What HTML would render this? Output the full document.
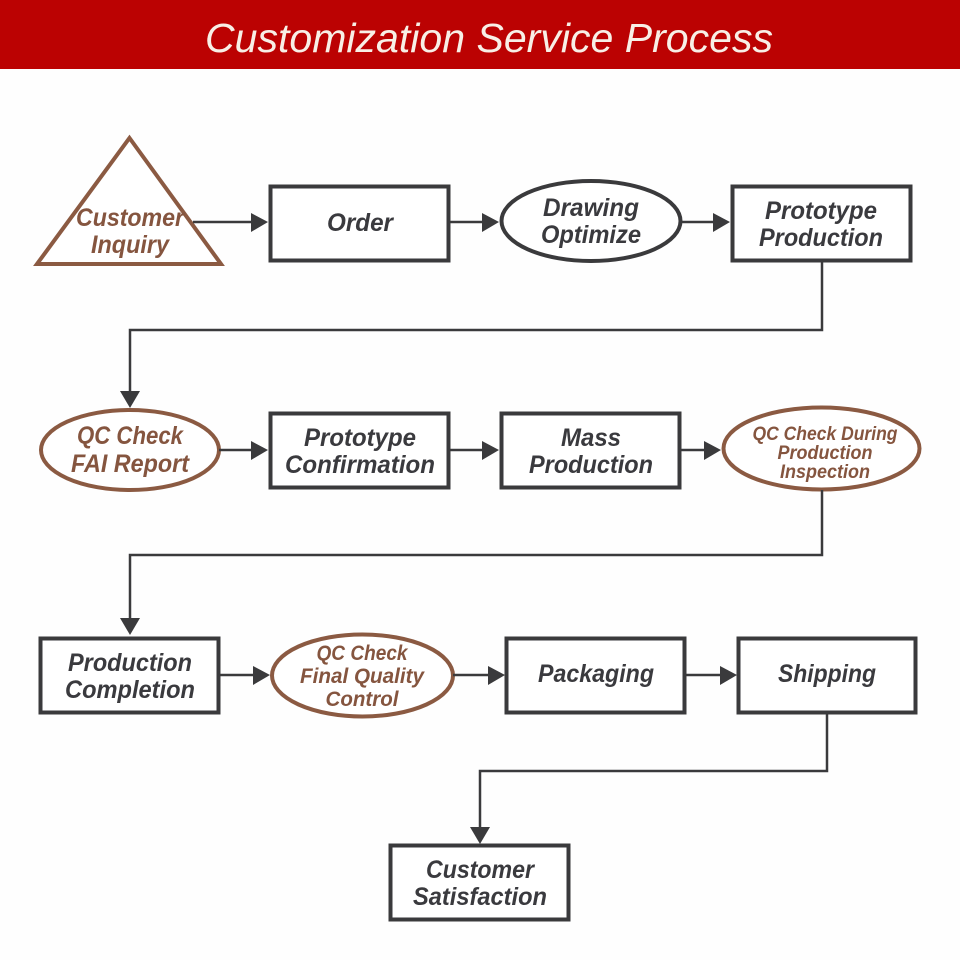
<!DOCTYPE html>
<html><head><meta charset="utf-8"><style>
html,body{margin:0;padding:0;background:#fff}
svg{display:block}
text{font-family:"Liberation Sans",sans-serif;font-style:italic;font-weight:bold;text-anchor:middle}
.d{fill:#3a3a3e;font-size:25px}
.r{fill:#85553f;font-size:25px}
.b{fill:#fff;stroke:#3a3a3c;stroke-width:4}
.o{fill:#fff;stroke:#8b5a42;stroke-width:4}
.l{fill:none;stroke:#3a3a3c;stroke-width:2.5}
.a{fill:#3a3a3c}
</style></head><body>
<svg width="960" height="960" viewBox="0 0 960 960" xmlns="http://www.w3.org/2000/svg">
<rect width="960" height="960" fill="#fefefe"/>
<rect width="960" height="69" fill="#bb0202"/>
<text x="489" y="52" textLength="568" lengthAdjust="spacingAndGlyphs" style="font-weight:normal;font-size:41px;fill:#f8efe6">Customization Service Process</text>

<polygon points="129.5,138 221,264 37,264" class="o"/>
<rect x="270.5" y="186.5" width="178" height="74" class="b"/>
<ellipse cx="591" cy="221" rx="89.5" ry="40" class="b"/>
<rect x="732.5" y="186.5" width="178" height="74" class="b"/>

<ellipse cx="130" cy="450" rx="89" ry="40" class="o"/>
<rect x="270.5" y="413.5" width="178" height="74" class="b"/>
<rect x="501.5" y="413.5" width="178" height="74" class="b"/>
<ellipse cx="821.5" cy="448.5" rx="98" ry="41" class="o"/>

<rect x="40.5" y="638.5" width="178" height="74" class="b"/>
<ellipse cx="362.5" cy="675.5" rx="90.5" ry="41" class="o"/>
<rect x="506.5" y="638.5" width="178" height="74" class="b"/>
<rect x="738.5" y="638.5" width="177" height="74" class="b"/>

<rect x="390.5" y="845.5" width="178" height="74" class="b"/>

<path class="l" d="M193 222H253M450 222H485M682 222H715M822 261V330H130V392M219 450H253M450 450H484M681 450H705M822 490V555H130V619M219 675H254M453 675H488M685 675H720M827 713V771H480V827"/>
<g class="a">
<polygon points="268,222 251,213 251,232"/>
<polygon points="499,222 482,213 482,232"/>
<polygon points="730,222 713,213 713,232"/>
<polygon points="130,408 120,391 140,391"/>
<polygon points="268,450 251,441 251,460"/>
<polygon points="499,450 482,441 482,460"/>
<polygon points="721,450 704,441 704,460"/>
<polygon points="130,635 120,618 140,618"/>
<polygon points="270,675 253,666 253,685"/>
<polygon points="505,675 488,666 488,685"/>
<polygon points="737,675 720,666 720,685"/>
<polygon points="480,844 470,827 490,827"/>
</g>

<text class="r" x="130" y="226" textLength="108" lengthAdjust="spacingAndGlyphs">Customer</text>
<text class="r" x="130" y="253" textLength="78" lengthAdjust="spacingAndGlyphs">Inquiry</text>
<text class="d" x="360" y="231" textLength="66" lengthAdjust="spacingAndGlyphs">Order</text>
<text class="d" x="591" y="216" textLength="96" lengthAdjust="spacingAndGlyphs">Drawing</text>
<text class="d" x="591" y="243" textLength="100" lengthAdjust="spacingAndGlyphs">Optimize</text>
<text class="d" x="821" y="219" textLength="112" lengthAdjust="spacingAndGlyphs">Prototype</text>
<text class="d" x="821" y="246" textLength="124" lengthAdjust="spacingAndGlyphs">Production</text>

<text class="r" x="130" y="444" textLength="106" lengthAdjust="spacingAndGlyphs">QC Check</text>
<text class="r" x="130" y="472" textLength="118" lengthAdjust="spacingAndGlyphs">FAI Report</text>
<text class="d" x="360" y="446" textLength="112" lengthAdjust="spacingAndGlyphs">Prototype</text>
<text class="d" x="360" y="473" textLength="150" lengthAdjust="spacingAndGlyphs">Confirmation</text>
<text class="d" x="591" y="446" textLength="60" lengthAdjust="spacingAndGlyphs">Mass</text>
<text class="d" x="591" y="473" textLength="124" lengthAdjust="spacingAndGlyphs">Production</text>
<text class="r" x="825" y="440" style="font-size:19px" textLength="145" lengthAdjust="spacingAndGlyphs">QC Check During</text>
<text class="r" x="825" y="459" style="font-size:19px" textLength="95" lengthAdjust="spacingAndGlyphs">Production</text>
<text class="r" x="825" y="478" style="font-size:19px" textLength="90" lengthAdjust="spacingAndGlyphs">Inspection</text>

<text class="d" x="130" y="671" textLength="124" lengthAdjust="spacingAndGlyphs">Production</text>
<text class="d" x="130" y="698" textLength="130" lengthAdjust="spacingAndGlyphs">Completion</text>
<text class="r" x="362" y="660" style="font-size:21px" textLength="91" lengthAdjust="spacingAndGlyphs">QC Check</text>
<text class="r" x="362" y="683" style="font-size:21px" textLength="124" lengthAdjust="spacingAndGlyphs">Final Quality</text>
<text class="r" x="362" y="706" style="font-size:21px" textLength="73" lengthAdjust="spacingAndGlyphs">Control</text>
<text class="d" x="596" y="682" textLength="116" lengthAdjust="spacingAndGlyphs">Packaging</text>
<text class="d" x="827" y="682" textLength="98" lengthAdjust="spacingAndGlyphs">Shipping</text>

<text class="d" x="480" y="878" textLength="108" lengthAdjust="spacingAndGlyphs">Customer</text>
<text class="d" x="480" y="905" textLength="134" lengthAdjust="spacingAndGlyphs">Satisfaction</text>
</svg>
</body></html>
